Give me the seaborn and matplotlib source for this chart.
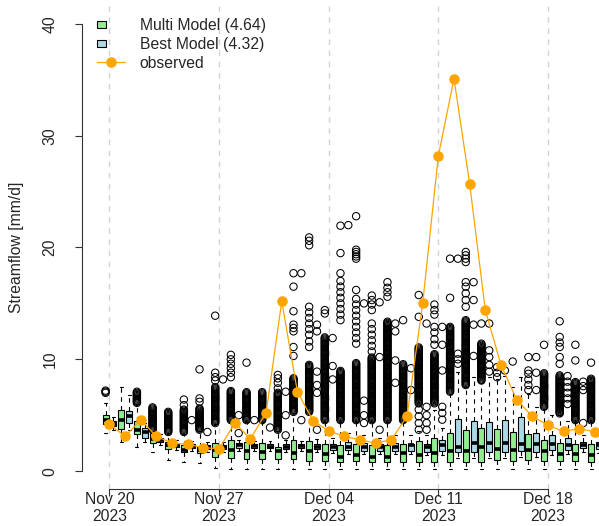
import numpy as np
import pandas as pd
import matplotlib
matplotlib.use("Agg")
import matplotlib.pyplot as plt
from matplotlib.lines import Line2D
from matplotlib.patches import Patch, Rectangle
from matplotlib.legend_handler import HandlerPatch
import seaborn as sns

# ---------------------------------------------------------------- data
dates = pd.date_range("2023-11-20", "2023-12-21", freq="D")
tick_dates = ["2023-11-20", "2023-11-27", "2023-12-04", "2023-12-11", "2023-12-18"]

observed = [4.2, 3.1, 4.6, 3.1, 2.5, 2.4, 2.1, 2.0, 4.3, 2.9, 5.2, 15.2,
            7.1, 4.5, 3.6, 3.1, 2.8, 2.5, 2.8, 4.9, 15.0, 28.2, 35.1, 25.7,
            14.4, 9.5, 6.4, 4.9, 4.1, 3.55, 3.8, 3.5]

models = ["Multi Model", "Best Model"]
model_scores = [4.64, 4.32]
model_colors = ["#90EE90", "#ADD8E6"]

# Multi Model ensemble: whisker ends, quartiles and median per day
multi_lo = [3.4, 2.6, 2.2, 1.7, 1.0, 0.8, 0.7, 0.3, 0.2, 0.2, 0.2, 0.2, 0.2, 0.2, 0.2, 0.2,
            0.2, 0.2, 0.2, 0.2, 0.2, 0.2, 0.2, 0.2, 0.2, 0.2, 0.2, 0.2, 0.2, 0.2, 0.2, 0.2]
multi_q1 = [4.2, 3.8, 3.3, 2.5, 2.0, 1.7, 1.6, 1.3, 1.2, 1.1, 1.1, 1.05, 1.05, 0.9, 0.9, 0.8,
            0.9, 0.8, 0.8, 0.8, 0.8, 0.8, 0.8, 0.8, 0.8, 1.0, 0.9, 1.0, 0.9, 0.9, 0.9, 0.8]
multi_med = [4.6, 4.6, 3.7, 2.9, 2.3, 1.9, 1.9, 1.9, 1.9, 1.8, 1.7, 1.8, 1.65, 1.8, 1.5, 1.3,
             1.4, 1.3, 1.3, 1.6, 1.4, 1.6, 1.8, 1.8, 2.2, 2.0, 1.9, 1.9, 1.8, 1.55, 1.55, 1.4]
multi_q3 = [5.05, 5.5, 4.45, 3.45, 2.6, 2.3, 2.2, 2.5, 2.8, 2.6, 2.5, 2.2, 2.75, 2.7, 2.4, 2.3,
            2.4, 2.3, 2.3, 2.4, 2.7, 3.0, 3.4, 3.7, 3.9, 3.76, 3.5, 3.3, 2.8, 2.5, 2.4, 2.4]
multi_hi = [6.1, 7.5, 6.0, 3.6, 3.4, 3.3, 3.6, 4.2, 4.4, 4.4, 4.4, 3.6, 5.2, 5.2, 4.4, 4.4,
            4.4, 4.4, 4.4, 4.4, 3.6, 5.5, 6.9, 7.5, 7.9, 8.2, 7.5, 6.9, 5.6, 5.0, 4.4, 4.4]
# Ranges packed solid with outlying members, and the scattered ones above them
multi_dense = [(7.0, 7.2), None, (6.1, 7.1), (3.7, 5.75), (3.5, 5.3), (3.5, 5.5), (3.7, 5.6),
               (4.3, 7.5), (4.56, 7.25), (4.56, 7.1), (4.56, 7.1), (3.7, 7.0), (5.3, 8.3),
               (5.3, 9.5), (4.56, 12.0), (4.56, 9.0), (4.56, 9.7), (4.56, 10.2), (4.56, 13.4),
               (4.56, 9.6), (6.06, 11.1), (6.06, 10.5), (7.1, 12.9), (7.7, 13.5), (8.1, 11.4),
               None, None, None, (5.75, 8.8), (5.16, 8.6), (4.56, 8.0), (4.56, 8.3)]
multi_sparse = [[], [], [], [], [], [5.9, 6.4], [6.2, 6.5, 9.1], [8.1, 8.4, 8.8, 13.9],
                [8.4, 8.8, 9.2, 9.6, 10.0, 10.4], [9.7], [], [7.4, 7.9, 8.3, 8.6],
                [10.3, 11.1, 12.5, 12.8, 13.1, 14.3, 16.5, 17.7],
                [11.1, 11.6, 12.2, 12.7, 13.2, 13.7, 14.2, 14.7, 20.2, 20.6, 20.9],
                [14.1, 14.4],
                [13.5, 14.0, 14.5, 15.0, 15.5, 16.0, 16.5, 17.0, 17.7, 19.5, 21.95],
                [11.4, 11.9, 12.4, 12.9, 13.4, 13.9, 14.4, 14.9, 15.4, 16.2,
                 19.0, 19.2, 19.4, 19.6, 19.8, 22.8],
                [10.7, 11.2, 11.7, 12.2, 12.7, 13.2, 14.4, 14.9, 15.3, 15.7],
                [15.6, 16.0, 16.4, 16.9], [13.5], [3.7, 4.3, 4.9, 5.5, 13.8, 15.75],
                [11.3, 11.8, 12.4, 12.9, 14.0, 14.4, 14.9], [15.5, 19.0],
                [14.7, 15.3, 15.9, 16.5, 16.9, 18.7, 19.0, 19.3, 19.6], [13.2],
                [8.4, 8.8, 9.3], [9.8], [7.25, 7.7, 8.2, 8.7, 9.0, 10.2], [11.3],
                [9.6, 10.2, 11.1, 11.5, 12.0, 13.4], [9.9, 11.3], [9.7]]

# Best Model ensemble
best_lo = [3.7, 3.7, 2.6, 2.3, 1.9, 1.8, 1.7, 1.7, 1.8, 1.8, 1.8, 1.7, 1.8, 1.7, 1.6, 1.5,
           1.5, 1.5, 1.5, 1.5, 1.4, 1.4, 1.2, 1.2, 1.2, 1.2, 1.3, 1.3, 1.4, 1.5, 1.7, 1.6]
best_q1 = [4.0, 4.3, 3.0, 2.6, 2.2, 2.1, 2.0, 2.0, 2.1, 2.1, 2.1, 2.0, 2.1, 2.0, 1.9, 1.9,
           1.8, 1.8, 1.8, 1.8, 1.7, 1.8, 1.7, 1.7, 1.7, 1.7, 1.8, 1.7, 1.9, 1.9, 2.1, 2.0]
best_med = [4.2, 4.95, 3.5, 2.75, 2.35, 2.25, 2.15, 2.15, 2.3, 2.25, 2.2, 2.2, 2.25, 2.2, 2.2, 2.2,
            2.2, 2.15, 2.15, 2.3, 2.2, 2.3, 2.2, 2.5, 2.5, 2.5, 2.4, 2.4, 2.4, 2.3, 2.3, 2.3]
best_q3 = [4.45, 5.4, 3.85, 2.95, 2.5, 2.4, 2.3, 2.3, 2.5, 2.4, 2.4, 2.4, 2.4, 2.45, 2.45, 2.6,
           2.5, 2.4, 2.5, 2.45, 2.4, 2.75, 4.7, 4.5, 4.4, 4.6, 4.8, 3.4, 3.2, 3.0, 2.6, 2.6]
best_hi = [4.8, 6.8, 4.3, 3.3, 2.8, 2.7, 2.6, 2.6, 2.8, 2.7, 2.7, 2.8, 2.7, 2.9, 3.0, 3.4,
           3.2, 3.0, 3.2, 3.2, 3.2, 3.9, 8.9, 8.4, 8.4, 8.5, 8.4, 5.7, 5.0, 4.5, 3.2, 3.3]
best_fliers = [[], [], [], [], [], [4.56], [3.5], [8.2], [3.4, 5.0], [4.56], [3.9],
               [3.2, 5.0, 7.1], [4.56, 17.7], [3.7, 7.0, 7.7, 8.9, 12.5, 13.1],
               [8.2, 9.4, 11.9], [22.0], [4.3, 5.0, 6.3, 15.0], [3.7, 10.2, 15.1],
               [7.9, 9.9, 12.5, 13.2], [7.25, 9.2], [3.7, 4.3, 5.0, 5.75, 13.2],
               [4.6, 5.2, 5.75, 9.0, 11.3, 12.9], [9.6, 10.0, 10.5, 19.0],
               [10.3, 13.1, 15.3, 16.9], [8.9, 9.5, 10.2, 10.8, 13.2], [9.0], [],
               [7.25, 8.8, 10.2], [], [6.0, 6.5, 7.0, 7.5, 8.0, 8.5], [4.3, 7.25, 7.6, 8.0], []]

# ---------------------------------------------------------------- tables
day_num = (dates - dates[0]).days.to_numpy()
summaries = {
    "Multi Model": (multi_lo, multi_q1, multi_med, multi_q3, multi_hi),
    "Best Model": (best_lo, best_q1, best_med, best_q3, best_hi),
}
box_rows = []
for model, stats in summaries.items():
    for i, d in enumerate(day_num):
        for v in (s[i] for s in stats):
            box_rows.append({"day": d, "model": model, "value": v})
box_df = pd.DataFrame(box_rows)

# outlying members, shifted to sit above their own (dodged) box
offsets = {"Multi Model": -0.25, "Best Model": 0.25}
flier_rows = []
for i, d in enumerate(day_num):
    vals = list(multi_sparse[i])
    if multi_dense[i] is not None:
        lo, hi = multi_dense[i]
        vals += list(np.arange(lo, hi + 1e-9, 0.1))
    flier_rows += [{"x": d + offsets["Multi Model"], "value": v} for v in vals]
    flier_rows += [{"x": d + offsets["Best Model"], "value": v} for v in best_fliers[i]]
flier_df = pd.DataFrame(flier_rows)

obs_df = pd.DataFrame({"day": day_num, "observed": observed})

# ---------------------------------------------------------------- figure
sns.set_theme(style="white")
plt.rcParams["font.family"] = ["Liberation Sans", "DejaVu Sans"]
FS = 11.3

W, H = 599, 526
fig = plt.figure(figsize=(W / 100, H / 100), dpi=100)
ax = fig.add_axes([82 / W, 37 / H, 517 / W, 483 / H])

tick_num = [(pd.Timestamp(t) - dates[0]).days for t in tick_dates]
for t in tick_num:
    ax.axvline(t, color="#D3D3D3", lw=1.0, ls=(0, (4, 4)), zorder=0)

sns.boxplot(data=box_df, x="day", y="value", hue="model", hue_order=models,
            palette=dict(zip(models, model_colors)), native_scale=True,
            width=1.0, gap=0.24, whis=(0, 100), showfliers=False,
            linecolor="black", linewidth=0.8, saturation=1, legend=False,
            whiskerprops=dict(linestyle=(0, (4, 4))),
            medianprops=dict(linewidth=2.6, solid_capstyle="butt"),
            ax=ax)

sns.scatterplot(data=flier_df, x="x", y="value", marker="o", s=28,
                facecolor="none", edgecolor="black", linewidth=0.75,
                legend=False, ax=ax, zorder=3)

sns.lineplot(data=obs_df, x="day", y="observed", color="#FFA500", linewidth=0.9,
             marker="o", markersize=7.6, markeredgewidth=0, ax=ax, zorder=5)

ax.set_xlim(-1.756, 31.26)
ax.set_ylim(-1.6, 41.6)
ax.set_xlabel("")
ax.set_ylabel("Streamflow [mm/d]", fontsize=FS)
ax.yaxis.set_label_coords(-0.113, 0.5)

ax.set_xticks(tick_num)
ax.set_xticklabels([pd.Timestamp(t).strftime("%b %d\n%Y") for t in tick_dates],
                   fontsize=FS, linespacing=1.15)
ax.set_yticks([0, 10, 20, 30, 40])
ax.set_yticklabels(["0", "10", "20", "30", "40"], fontsize=FS, rotation=90, va="center")
ax.tick_params(axis="y", length=5, width=0.8, color="#333333", pad=12.5, left=True)
ax.tick_params(axis="x", length=5, width=0.8, color="#333333", pad=-2.5, bottom=True)

for side in ("top", "right"):
    ax.spines[side].set_visible(False)
ax.spines["left"].set_bounds(0, 40)
ax.spines["bottom"].set_bounds(tick_num[0], tick_num[-1])
for side in ("left", "bottom"):
    ax.spines[side].set_color("#333333")
    ax.spines[side].set_linewidth(0.8)


def left_square(legend, orig_handle, xdescent, ydescent, width, height, fontsize):
    w, h = 6.9, 5.4
    return Rectangle((-xdescent, -ydescent + (height - h) / 2), w, h)


handles = [Patch(facecolor=c, edgecolor="black", linewidth=0.8) for c in model_colors]
handles.append(Line2D([], [], color="#FFA500", lw=0.9, marker="o",
                      markersize=7.6, markeredgewidth=0))
labels = [f"{m} ({s:.2f})" for m, s in zip(models, model_scores)] + ["observed"]
ax.legend(handles, labels, loc="upper left", bbox_to_anchor=(96.5 / W, 1 - 18 / H),
          bbox_transform=fig.transFigure, frameon=False, fontsize=FS,
          handlelength=1.8, handletextpad=0.95, labelspacing=0.25,
          borderpad=0, borderaxespad=0,
          handler_map={Patch: HandlerPatch(patch_func=left_square)})

fig.savefig("out.png", dpi=100)
